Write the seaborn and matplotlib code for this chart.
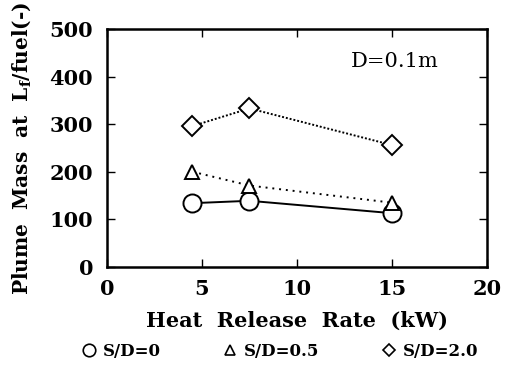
import matplotlib
matplotlib.use("Agg")
import matplotlib.pyplot as plt
import seaborn as sns
import pandas as pd
from matplotlib.lines import Line2D

hrr = [4.5, 7.5, 15.0]
sd0 = [134, 139, 113]
sd05 = [200, 171, 135]
sd20 = [296, 333, 256]
labels = ["S/D=0", "S/D=0.5", "S/D=2.0"]

sns.set_style("ticks")
plt.rcParams['font.family'] = ['DejaVu Serif']
plt.rcParams['font.weight'] = 'bold'
plt.rcParams['text.color'] = 'black'
plt.rcParams['axes.labelcolor'] = 'black'
plt.rcParams['xtick.color'] = 'black'
plt.rcParams['ytick.color'] = 'black'
plt.rcParams['mathtext.fontset'] = 'dejavuserif'

fig = plt.figure(figsize=(5.08, 3.68), dpi=100)
ax = fig.add_axes([0.2106, 0.2745, 0.748, 0.647])

styles = [
    (sd0, 'o', '-', 13),
    (sd05, '^', (0, (1, 2.5)), 10),
    (sd20, 'D', (0, (1, 1)), 10),
]
for vals, m, ls, ms in styles:
    df = pd.DataFrame({"x": hrr, "y": vals})
    sns.lineplot(data=df, x="x", y="y", ax=ax, color='black', marker=m,
                 linestyle=ls, markersize=ms, markerfacecolor='white',
                 markeredgecolor='black', markeredgewidth=1.4, linewidth=1.4)

ax.set_xlim(0, 20)
ax.set_ylim(0, 500)
ax.set_xticks([0, 5, 10, 15, 20])
ax.set_yticks([0, 100, 200, 300, 400, 500])
ax.tick_params(direction='in', top=True, right=True, length=6, width=1,
               labelsize=15)
ax.tick_params(axis='y', pad=10)
ax.tick_params(axis='x', pad=9)
for lab in ax.get_xticklabels() + ax.get_yticklabels():
    lab.set_fontweight('bold')
for sp in ax.spines.values():
    sp.set_linewidth(1.8)
    sp.set_color('black')

ax.set_xlabel("Heat  Release  Rate  (kW)", fontsize=15, fontweight='bold')
ax.xaxis.set_label_coords(0.5, -0.185)
ax.set_ylabel(r"Plume  Mass  at  L$_{\mathbf{f}}$/fuel(-)", fontsize=14.5,
              fontweight='bold')
ax.yaxis.set_label_coords(-0.195, 0.5)
ax.text(0.874, 0.861, "D=0.1m", transform=ax.transAxes, ha='right', va='center',
        fontsize=15, fontweight='normal')

handles = [
    Line2D([], [], marker='o', color='black', linestyle='none', markersize=9,
           markerfacecolor='white', markeredgewidth=1.2),
    Line2D([], [], marker='^', color='black', linestyle='none', markersize=7,
           markerfacecolor='white', markeredgewidth=1.2),
    Line2D([], [], marker='D', color='black', linestyle='none', markersize=6,
           markerfacecolor='white', markeredgewidth=1.2),
]
fig.legend(handles, labels, loc='center', bbox_to_anchor=(0.55, 0.045), ncol=3,
           frameon=False, prop={'weight': 'bold', 'size': 12},
           handletextpad=0.3, columnspacing=3.7, handlelength=1.0)

fig.savefig("out.png", dpi=100)
